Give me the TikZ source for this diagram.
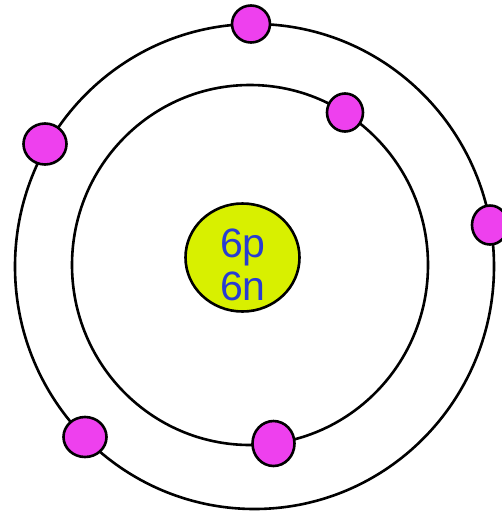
\documentclass[tikz,border=0pt]{standalone}
\usepackage{fontspec}
\setmainfont{Liberation Sans}
\definecolor{elec}{RGB}{238,64,238}
\definecolor{nuc}{RGB}{216,240,0}
\definecolor{txt}{RGB}{40,60,210}
\begin{document}
\begin{tikzpicture}[x=1pt,y=-1pt,
  orbit/.style={draw=black,line width=2.6pt},
  electron/.style={draw=black,line width=2.6pt,fill=elec},
  nucleus/.style={draw=black,line width=2.6pt,fill=nuc},
  label/.style={text=txt,font=\fontsize{41}{43}\selectfont,anchor=base,inner sep=0pt,draw=txt,draw opacity=0,line width=0pt}]
\useasboundingbox (0,0) rectangle (502,512);
% orbits
\path[orbit] (254.5,266.5) ellipse [x radius=239.5, y radius=242.5];
\path[orbit] (250,265) ellipse [x radius=178, y radius=180];
% nucleus
\path[nucleus] (242.5,257.5) ellipse [x radius=57, y radius=54];
\node[label] (p) at (243,257) {6p};
\node[label] (n) at (243,300) {6n};
% electrons
\path[electron] (251,24) ellipse [x radius=19, y radius=18.5];
\path[electron] (345,112.5) ellipse [x radius=18, y radius=19];
\path[electron] (45,144) ellipse [x radius=21.5, y radius=20.5];
\path[electron] (490,225) ellipse [x radius=18, y radius=19.5];
\path[electron] (85,437) ellipse [x radius=21.5, y radius=20];
\path[electron] (273.5,443.5) ellipse [x radius=21, y radius=22.5];
\end{tikzpicture}
\end{document}
